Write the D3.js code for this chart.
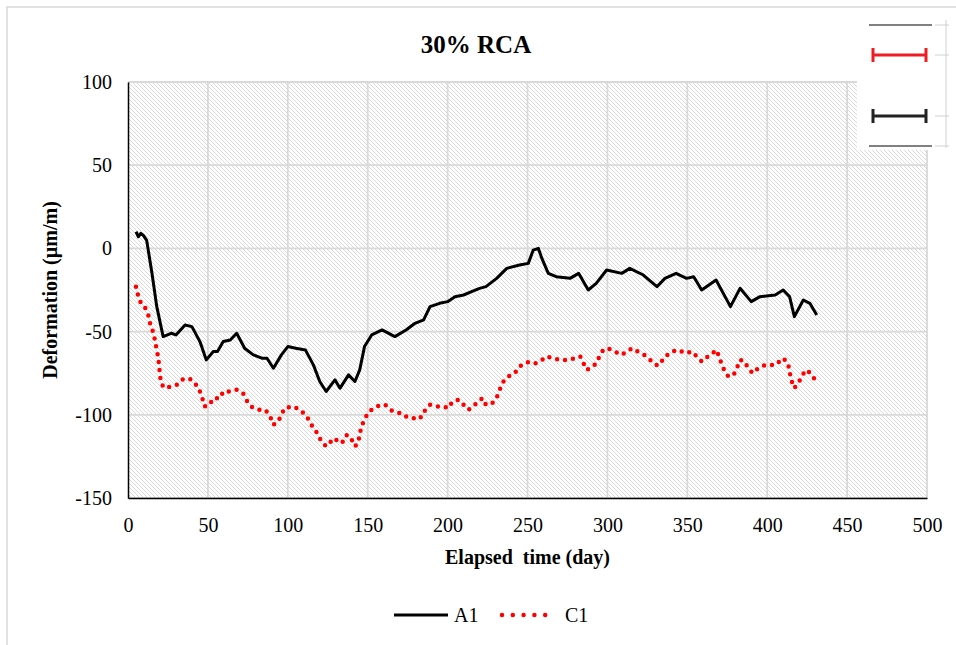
<!DOCTYPE html>
<html>
<head>
<meta charset="utf-8">
<script src="https://cdn.jsdelivr.net/npm/d3@7"></script>
<style>
  body { margin: 0; background: #fff; }
  text { font-family: "Liberation Serif", "DejaVu Serif", serif; }
</style>
</head>
<body>
<div class="chart"></div>
<script>
var svgWidth = 956;
var svgHeight = 645;

var margin = { top: 82, right: 29, bottom: 147, left: 128 };
var width = svgWidth - margin.left - margin.right;
var height = svgHeight - margin.top - margin.bottom;

// data: elapsed day / deformation (µm/m)
var a1Days = [5, 6.5, 8, 9.6, 11.7, 15, 18, 22, 27, 30, 35.7, 40, 45, 49, 53.4, 56, 59.6, 64, 68, 73, 78.4, 83.7, 87, 91, 96, 100, 105, 111, 116, 120, 124, 129.5, 132.7, 138, 142, 145, 148, 152.5, 159, 167, 174, 179.6, 185, 189, 195, 200, 204.6, 210, 215, 220, 224, 230.7, 237, 245, 250.5, 253.6, 256.8, 259, 263, 268, 276.6, 282, 288, 293, 299.5, 309, 314, 322.5, 331, 336, 343, 349.5, 354, 359, 368, 377, 383, 390, 395.5, 405, 410, 414, 417, 422.6, 426.7, 431];
var a1Values = [10, 7, 9, 7.8, 4.8, -15, -35, -53, -51, -52, -46, -47, -56, -67, -62, -62, -56, -55, -51, -60, -64, -66, -66, -72, -64, -59, -60, -61, -70, -80, -86, -79, -84, -76, -80, -73, -59, -52, -49, -53, -49, -45, -43, -35, -33, -32, -29, -28, -26, -24, -23, -18, -12, -10, -9, -1, 0, -6, -15, -17, -18, -15, -25, -21, -13, -15, -12, -16, -23, -18, -15, -18, -17, -25, -19, -35, -24, -32, -29, -28, -25, -29, -41, -31, -33, -40];

var c1Days = [5, 6.5, 8.5, 11, 12.7, 14, 16, 17, 18, 19, 19.6, 20.6, 23, 27, 30.5, 33.6, 36.7, 40, 42.6, 45, 46.5, 48, 51, 53.4, 57.6, 59.6, 64, 68, 72, 74, 77, 81.5, 86, 89, 91, 94, 96, 98, 103.5, 107.6, 112, 114, 117, 119, 121, 124, 127, 129.5, 132, 135, 137, 140, 142, 144, 145, 146, 148, 150, 153.5, 158, 161, 164, 167, 170, 173, 176.5, 180.6, 184, 186, 189, 192, 197, 200.5, 203, 207, 210, 213, 216, 219, 222, 224, 228, 231, 233, 235, 238, 242, 245, 248, 251.6, 255, 258, 261.6, 266, 270, 275.5, 279.7, 283, 285, 287, 291, 293, 295, 297.4, 300.5, 304.7, 309, 312, 315.6, 319, 323, 326.7, 330, 333, 335, 339, 343, 346.5, 349.5, 352.7, 356, 359, 361, 365, 368, 370, 371.5, 373.6, 375.7, 379, 381, 383, 386, 388, 391, 393, 396, 399, 403, 405.5, 407.6, 410, 413, 414, 415, 417, 420, 422, 424.7, 428, 430.5];
var c1Values = [-23, -29, -34, -36, -40, -46, -51, -56, -61, -66, -72, -81, -84, -83, -82, -79, -78, -79, -82, -86, -90, -95, -94, -90, -90, -86, -86, -85, -87, -91, -95, -97, -97, -101, -106, -104, -100, -96, -95, -97, -101, -105, -109, -112, -116, -119, -116, -114, -117, -116, -112, -115, -119, -117, -112, -107, -103, -99, -96, -94, -94, -97, -98, -99, -101, -101, -103, -101, -97, -94, -95, -95, -96, -92, -91, -94, -97, -95, -92, -90, -94, -93, -89, -84, -80, -77, -75, -71, -69, -68, -69, -68, -65, -66, -67, -67, -66, -65, -69, -73, -71, -69, -65, -61, -60, -62, -64, -62, -60, -62, -64, -67, -70, -70, -66, -63, -61, -62, -63, -62, -65, -68, -66, -64, -61, -65, -70, -74, -77, -76, -72, -67, -68, -72, -75, -73, -71, -70, -70, -70, -68, -66, -69, -74, -79, -84, -80, -76, -73, -76, -80];

var xTicks = [0, 50, 100, 150, 200, 250, 300, 350, 400, 450, 500];
var yTicks = [-150, -100, -50, 0, 50, 100];

var a1 = a1Days.map((d, i) => ({ day: d, value: a1Values[i] }));
var c1 = c1Days.map((d, i) => ({ day: d, value: c1Values[i] }));

var svg = d3.select(".chart")
  .append("svg")
  .attr("width", svgWidth)
  .attr("height", svgHeight);

// light downward diagonal fill of the plot area
var pattern = svg.append("defs").append("pattern")
  .attr("id", "hatch")
  .attr("patternUnits", "userSpaceOnUse")
  .attr("width", 4)
  .attr("height", 4);
pattern.append("path")
  .attr("d", "M0,0 L4,4 M-1,3 L1,5 M3,-1 L5,1")
  .attr("stroke", "#d6d6d6")
  .attr("stroke-width", 0.9);

// outer chart frame
svg.append("rect")
  .attr("x", 7).attr("y", 7)
  .attr("width", 970).attr("height", 660)
  .attr("fill", "none")
  .attr("stroke", "#d9d9d9")
  .attr("stroke-width", 1.5);

var chartGroup = svg.append("g")
  .attr("transform", `translate(${margin.left}, ${margin.top})`);

var xScale = d3.scaleLinear().domain([0, 500]).range([0, width]);
var yScale = d3.scaleLinear().domain([-150, 100]).range([height, 0]);

chartGroup.append("rect")
  .attr("width", width)
  .attr("height", height)
  .attr("fill", "url(#hatch)");

// gridlines
chartGroup.append("g")
  .selectAll("line.h")
  .data(yTicks)
  .join("line")
    .attr("x1", 0).attr("x2", width)
    .attr("y1", d => yScale(d)).attr("y2", d => yScale(d))
    .attr("stroke", "#d9d9d9")
    .attr("stroke-width", 1.8);

chartGroup.append("g")
  .selectAll("line.v")
  .data(xTicks.slice(1))
  .join("line")
    .attr("x1", d => xScale(d)).attr("x2", d => xScale(d))
    .attr("y1", 0).attr("y2", height)
    .attr("stroke", "#d9d9d9")
    .attr("stroke-width", 1.8);

// axes
var bottomAxis = d3.axisBottom(xScale).tickValues(xTicks).tickSize(0).tickPadding(20)
  .tickFormat(d => String(d));
var leftAxis = d3.axisLeft(yScale).tickValues(yTicks).tickSize(0).tickPadding(16)
  .tickFormat(d => String(d));

var xAxisG = chartGroup.append("g")
  .attr("transform", `translate(0, ${height})`)
  .call(bottomAxis);
var yAxisG = chartGroup.append("g")
  .call(leftAxis);

[xAxisG, yAxisG].forEach(function(g) {
  g.select(".domain").attr("stroke", "#000").attr("stroke-width", 1.5);
  g.selectAll("text")
    .style("font-family", "'Liberation Serif', serif")
    .style("font-size", "20px")
    .attr("fill", "#000");
});

// lines
var line = d3.line()
  .x(d => xScale(d.day))
  .y(d => yScale(d.value));

chartGroup.append("path")
  .datum(c1)
  .attr("d", line)
  .attr("fill", "none")
  .attr("stroke", "#ff0000")
  .attr("stroke-width", 4.5)
  .attr("stroke-linecap", "round")
  .attr("stroke-dasharray", "0 8");

chartGroup.append("path")
  .datum(a1)
  .attr("d", line)
  .attr("fill", "none")
  .attr("stroke", "#000")
  .attr("stroke-width", 3)
  .attr("stroke-linejoin", "round");

// white box at the top right with stray error-bar marks
var box = svg.append("g");
box.append("rect")
  .attr("x", 857).attr("y", 10)
  .attr("width", 99).attr("height", 140)
  .attr("fill", "#fff");
box.append("line")
  .attr("x1", 946).attr("x2", 946).attr("y1", 20).attr("y2", 148)
  .attr("stroke", "#d0d0d0").attr("stroke-width", 1);
box.selectAll("line.tk")
  .data([25, 55, 116, 146])
  .join("line")
    .attr("x1", 935).attr("x2", 949)
    .attr("y1", d => d).attr("y2", d => d)
    .attr("stroke", "#d0d0d0").attr("stroke-width", 1);
box.selectAll("line.gr")
  .data([25, 146])
  .join("line")
    .attr("x1", 869).attr("x2", 932)
    .attr("y1", d => d).attr("y2", d => d)
    .attr("stroke", "#808080").attr("stroke-width", 2);
[[55, "#ee1c25"], [116, "#222"]].forEach(function(e) {
  var y = e[0], c = e[1];
  box.append("path")
    .attr("d", `M873,${y}H926M873,${y - 7}V${y + 7}M926,${y - 7}V${y + 7}`)
    .attr("fill", "none")
    .attr("stroke", c)
    .attr("stroke-width", 3);
});

// titles
svg.append("text")
  .attr("x", 476).attr("y", 53)
  .attr("text-anchor", "middle")
  .style("font-size", "25px").style("font-weight", "bold")
  .text("30% RCA");

svg.append("text")
  .attr("x", margin.left + width / 2).attr("y", 564)
  .attr("text-anchor", "middle")
  .style("font-size", "20px").style("font-weight", "bold")
  .style("white-space", "pre")
  .text("Elapsed  time (day)");

svg.append("text")
  .attr("transform", `translate(57, ${margin.top + height / 2}) rotate(-90)`)
  .attr("text-anchor", "middle")
  .style("font-size", "20px").style("font-weight", "bold")
  .text("Deformation (µm/m)");

// legend
var legend = svg.append("g").attr("transform", "translate(0, 615)");
legend.append("line")
  .attr("x1", 394).attr("x2", 448).attr("y1", 0).attr("y2", 0)
  .attr("stroke", "#000").attr("stroke-width", 3);
legend.append("text")
  .attr("x", 454).attr("y", 7)
  .style("font-size", "20px")
  .text("A1");
legend.append("line")
  .attr("x1", 502).attr("x2", 556).attr("y1", 0).attr("y2", 0)
  .attr("stroke", "#ff0000").attr("stroke-width", 4.5)
  .attr("stroke-linecap", "round")
  .attr("stroke-dasharray", "0 10.8");
legend.append("text")
  .attr("x", 565).attr("y", 7)
  .style("font-size", "20px")
  .text("C1");
</script>
</body>
</html>
